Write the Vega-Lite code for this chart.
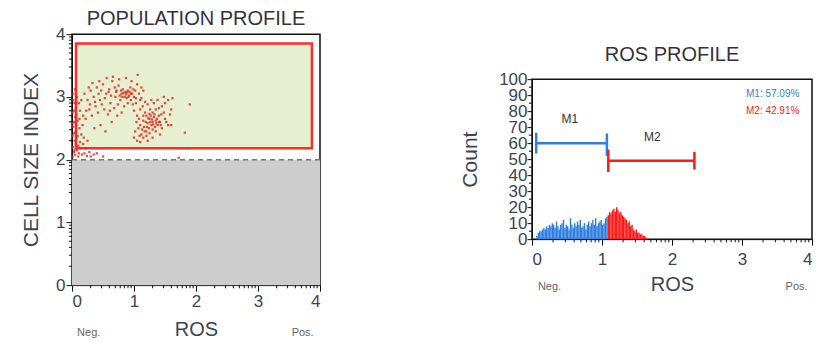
{
  "$schema": "https://vega.github.io/schema/vega-lite/v6.json",
  "background": "white",
  "padding": {"left": 19, "top": 8, "right": 0, "bottom": 0},
  "spacing": 136,
  "center": true,
  "config": {
    "font": "Liberation Sans",
    "view": {"stroke": "#111", "strokeWidth": 1.5},
    "title": {"fontSize": 20, "fontWeight": "normal", "color": "#333340"},
    "axis": {"domainColor": "#111", "tickColor": "#111", "labelColor": "#3d4456", "titleColor": "#3d4456", "labelFont": "Liberation Sans", "titleFont": "Liberation Sans", "titleFontWeight": "normal", "grid": false}
  },
  "datasets": {
    "minor4": [
      {"v":0.301},{"v":0.477},{"v":0.602},{"v":0.699},{"v":0.778},{"v":0.845},{"v":0.903},{"v":0.954},
      {"v":1.301},{"v":1.477},{"v":1.602},{"v":1.699},{"v":1.778},{"v":1.845},{"v":1.903},{"v":1.954},
      {"v":2.301},{"v":2.477},{"v":2.602},{"v":2.699},{"v":2.778},{"v":2.845},{"v":2.903},{"v":2.954},
      {"v":3.301},{"v":3.477},{"v":3.602},{"v":3.699},{"v":3.778},{"v":3.845},{"v":3.903},{"v":3.954}
    ],
    "minor100": [
      {"v":5},{"v":15},{"v":25},{"v":35},{"v":45},{"v":55},{"v":65},{"v":75},{"v":85},{"v":95}
    ],
    "cells": [
      {"x":0.01,"y":2.05},{"x":0.03,"y":2.12},{"x":0.02,"y":2.2},{"x":0.05,"y":2.08},{"x":0.04,"y":2.3},{"x":0.01,"y":2.38},{"x":0.06,"y":2.45},{"x":0.02,"y":2.52},{"x":0.08,"y":2.15},{"x":0.03,"y":2.6},
      {"x":0.05,"y":2.68},{"x":0.01,"y":2.75},{"x":0.07,"y":2.35},{"x":0.1,"y":2.22},{"x":0.04,"y":2.9},{"x":0.02,"y":3.05},{"x":0.06,"y":2.82},{"x":0.12,"y":2.5},{"x":0.09,"y":2.62},{"x":0.11,"y":2.1},
      {"x":0.13,"y":2.28},{"x":0.03,"y":2.42},{"x":0.07,"y":2.72},{"x":0.15,"y":2.4},{"x":0.02,"y":2.95},{"x":0.08,"y":3.0},{"x":0.05,"y":3.12},{"x":0.14,"y":2.18},{"x":0.06,"y":2.25},{"x":0.1,"y":2.05},
      {"x":0.16,"y":2.08},{"x":0.2,"y":2.1},{"x":0.24,"y":2.06},{"x":0.28,"y":2.12},{"x":0.18,"y":2.25},{"x":0.22,"y":2.18},{"x":0.3,"y":2.05},{"x":0.35,"y":2.08},{"x":0.4,"y":2.1},{"x":0.12,"y":2.65},
      {"x":0.17,"y":2.55},{"x":0.04,"y":2.15},{"x":0.09,"y":2.38},{"x":0.13,"y":2.78},{"x":0.19,"y":2.35},{"x":0.25,"y":2.3},{"x":0.01,"y":2.58},{"x":0.07,"y":2.55},{"x":0.03,"y":2.78},{"x":0.11,"y":2.9},
      {"x":0.3,"y":3.1},{"x":0.35,"y":3.0},{"x":0.4,"y":3.15},{"x":0.45,"y":2.95},{"x":0.5,"y":3.2},{"x":0.55,"y":3.05},{"x":0.6,"y":3.12},{"x":0.62,"y":2.9},{"x":0.65,"y":3.25},{"x":0.7,"y":3.0},
      {"x":0.72,"y":3.1},{"x":0.75,"y":3.18},{"x":0.78,"y":2.95},{"x":0.8,"y":3.05},{"x":0.82,"y":3.12},{"x":0.85,"y":3.0},{"x":0.86,"y":3.08},{"x":0.88,"y":2.98},{"x":0.9,"y":3.1},{"x":0.92,"y":3.02},
      {"x":0.94,"y":3.15},{"x":0.95,"y":2.95},{"x":0.97,"y":3.05},{"x":1.0,"y":3.0},{"x":1.02,"y":3.1},{"x":1.05,"y":3.2},{"x":1.08,"y":3.05},{"x":1.1,"y":2.95},{"x":0.25,"y":2.95},{"x":0.28,"y":2.8},
      {"x":0.32,"y":2.7},{"x":0.38,"y":2.85},{"x":0.42,"y":2.75},{"x":0.48,"y":2.88},{"x":0.52,"y":2.8},{"x":0.58,"y":2.72},{"x":0.68,"y":2.82},{"x":0.74,"y":2.88},{"x":0.84,"y":2.85},{"x":0.9,"y":2.9},
      {"x":0.98,"y":2.88},{"x":0.2,"y":3.05},{"x":0.22,"y":2.65},{"x":0.27,"y":3.15},{"x":0.33,"y":3.22},{"x":0.44,"y":3.25},{"x":0.56,"y":3.3},{"x":0.66,"y":3.32},{"x":0.76,"y":3.28},{"x":0.87,"y":3.3},
      {"x":0.96,"y":3.25},{"x":1.06,"y":3.35},{"x":1.12,"y":3.15},{"x":1.15,"y":3.1},{"x":0.81,"y":3.0},{"x":0.83,"y":3.06},{"x":0.87,"y":3.04},{"x":0.89,"y":3.07},{"x":0.91,"y":3.0},{"x":0.93,"y":3.08},
      {"x":0.79,"y":3.1},{"x":0.77,"y":3.02},{"x":0.71,"y":3.08},{"x":0.69,"y":3.15},{"x":0.63,"y":3.02},{"x":0.59,"y":3.08},{"x":0.53,"y":2.98},{"x":0.47,"y":3.1},{"x":0.43,"y":3.05},{"x":0.37,"y":2.92},
      {"x":0.29,"y":2.88},{"x":0.23,"y":2.78},{"x":0.18,"y":2.7},{"x":0.15,"y":2.95},{"x":0.61,"y":2.78},{"x":0.73,"y":2.7},{"x":0.64,"y":2.6},{"x":0.46,"y":2.55},{"x":0.36,"y":2.5},{"x":0.54,"y":2.45},
      {"x":0.8,"y":2.75},{"x":0.99,"y":3.12},{"x":1.03,"y":2.98},{"x":0.95,"y":3.05},
      {"x":1.2,"y":2.7},{"x":1.25,"y":2.65},{"x":1.3,"y":2.6},{"x":1.28,"y":2.55},{"x":1.32,"y":2.68},{"x":1.35,"y":2.62},{"x":1.22,"y":2.58},{"x":1.18,"y":2.75},{"x":1.15,"y":2.62},{"x":1.38,"y":2.55},
      {"x":1.4,"y":2.7},{"x":1.42,"y":2.6},{"x":1.3,"y":2.75},{"x":1.26,"y":2.8},{"x":1.24,"y":2.5},{"x":1.2,"y":2.45},{"x":1.16,"y":2.52},{"x":1.12,"y":2.4},{"x":1.1,"y":2.55},{"x":1.08,"y":2.65},
      {"x":1.05,"y":2.7},{"x":1.02,"y":2.45},{"x":1.0,"y":2.35},{"x":1.05,"y":2.3},{"x":1.1,"y":2.28},{"x":1.15,"y":2.35},{"x":1.2,"y":2.38},{"x":1.25,"y":2.42},{"x":1.3,"y":2.48},{"x":1.35,"y":2.45},
      {"x":1.45,"y":2.5},{"x":1.5,"y":2.65},{"x":1.48,"y":2.75},{"x":1.45,"y":2.85},{"x":1.5,"y":2.9},{"x":1.55,"y":2.95},{"x":1.6,"y":2.8},{"x":1.52,"y":2.6},{"x":1.58,"y":2.72},{"x":1.38,"y":2.95},
      {"x":1.32,"y":2.9},{"x":1.28,"y":2.95},{"x":1.22,"y":2.88},{"x":1.18,"y":2.92},{"x":1.14,"y":2.85},{"x":1.1,"y":2.8},{"x":1.35,"y":2.8},{"x":1.4,"y":2.82},{"x":1.44,"y":2.72},{"x":1.27,"y":2.7},
      {"x":1.33,"y":2.72},{"x":1.29,"y":2.64},{"x":1.23,"y":2.66},{"x":1.36,"y":2.58},{"x":1.19,"y":2.6},{"x":1.31,"y":2.56},{"x":1.26,"y":2.6},{"x":1.34,"y":2.52},{"x":1.21,"y":2.52},{"x":1.17,"y":2.45},
      {"x":1.13,"y":2.48},{"x":1.07,"y":2.5},{"x":1.09,"y":2.38},{"x":1.04,"y":2.6},{"x":1.15,"y":2.7},{"x":1.4,"y":2.6},{"x":1.43,"y":2.55},{"x":1.37,"y":2.65},{"x":1.25,"y":2.73},{"x":1.12,"y":2.98},
      {"x":1.0,"y":2.78},{"x":1.03,"y":2.9},{"x":1.48,"y":3.0},{"x":1.62,"y":2.98},{"x":1.55,"y":2.55},{"x":1.42,"y":2.4},{"x":1.6,"y":2.55},{"x":1.22,"y":2.3},{"x":1.3,"y":2.35},
      {"x":1.9,"y":2.88},{"x":1.82,"y":2.43},{"x":1.72,"y":2.03},{"x":0.5,"y":2.05}
    ],
    "hist": [
      {"x":0.06,"x2":0.08,"n":2,"g":"M1"},{"x":0.08,"x2":0.10,"n":4,"g":"M1"},{"x":0.10,"x2":0.12,"n":5,"g":"M1"},{"x":0.12,"x2":0.14,"n":5,"g":"M1"},{"x":0.14,"x2":0.16,"n":6,"g":"M1"},
      {"x":0.16,"x2":0.18,"n":7,"g":"M1"},{"x":0.18,"x2":0.20,"n":6,"g":"M1"},{"x":0.20,"x2":0.22,"n":8,"g":"M1"},{"x":0.22,"x2":0.24,"n":7,"g":"M1"},{"x":0.24,"x2":0.26,"n":9,"g":"M1"},
      {"x":0.26,"x2":0.28,"n":8,"g":"M1"},{"x":0.28,"x2":0.30,"n":10,"g":"M1"},{"x":0.30,"x2":0.32,"n":9,"g":"M1"},{"x":0.32,"x2":0.34,"n":7,"g":"M1"},{"x":0.34,"x2":0.36,"n":11,"g":"M1"},
      {"x":0.36,"x2":0.38,"n":8,"g":"M1"},{"x":0.38,"x2":0.40,"n":6,"g":"M1"},{"x":0.40,"x2":0.42,"n":9,"g":"M1"},{"x":0.42,"x2":0.44,"n":10,"g":"M1"},{"x":0.44,"x2":0.46,"n":12,"g":"M1"},
      {"x":0.46,"x2":0.48,"n":7,"g":"M1"},{"x":0.48,"x2":0.50,"n":9,"g":"M1"},{"x":0.50,"x2":0.52,"n":8,"g":"M1"},{"x":0.52,"x2":0.54,"n":6,"g":"M1"},{"x":0.54,"x2":0.56,"n":13,"g":"M1"},
      {"x":0.56,"x2":0.58,"n":9,"g":"M1"},{"x":0.58,"x2":0.60,"n":7,"g":"M1"},{"x":0.60,"x2":0.62,"n":10,"g":"M1"},{"x":0.62,"x2":0.64,"n":8,"g":"M1"},{"x":0.64,"x2":0.66,"n":11,"g":"M1"},
      {"x":0.66,"x2":0.68,"n":9,"g":"M1"},{"x":0.68,"x2":0.70,"n":12,"g":"M1"},{"x":0.70,"x2":0.72,"n":7,"g":"M1"},{"x":0.72,"x2":0.74,"n":8,"g":"M1"},{"x":0.74,"x2":0.76,"n":10,"g":"M1"},
      {"x":0.76,"x2":0.78,"n":6,"g":"M1"},{"x":0.78,"x2":0.80,"n":9,"g":"M1"},{"x":0.80,"x2":0.82,"n":11,"g":"M1"},{"x":0.82,"x2":0.84,"n":8,"g":"M1"},{"x":0.84,"x2":0.86,"n":10,"g":"M1"},
      {"x":0.86,"x2":0.88,"n":12,"g":"M1"},{"x":0.88,"x2":0.90,"n":9,"g":"M1"},{"x":0.90,"x2":0.92,"n":13,"g":"M1"},{"x":0.92,"x2":0.94,"n":8,"g":"M1"},{"x":0.94,"x2":0.96,"n":10,"g":"M1"},
      {"x":0.96,"x2":0.98,"n":11,"g":"M1"},{"x":0.98,"x2":1.00,"n":12,"g":"M1"},{"x":1.00,"x2":1.02,"n":9,"g":"M1"},{"x":1.02,"x2":1.04,"n":10,"g":"M1"},{"x":1.04,"x2":1.06,"n":13,"g":"M1"},
      {"x":1.06,"x2":1.08,"n":14,"g":"M1"},
      {"x":1.08,"x2":1.10,"n":15,"g":"M2"},{"x":1.10,"x2":1.12,"n":17,"g":"M2"},{"x":1.12,"x2":1.14,"n":16,"g":"M2"},{"x":1.14,"x2":1.16,"n":18,"g":"M2"},{"x":1.16,"x2":1.18,"n":19,"g":"M2"},
      {"x":1.18,"x2":1.20,"n":17,"g":"M2"},{"x":1.20,"x2":1.22,"n":20,"g":"M2"},{"x":1.22,"x2":1.24,"n":18,"g":"M2"},{"x":1.24,"x2":1.26,"n":16,"g":"M2"},{"x":1.26,"x2":1.28,"n":17,"g":"M2"},
      {"x":1.28,"x2":1.30,"n":15,"g":"M2"},{"x":1.30,"x2":1.32,"n":14,"g":"M2"},{"x":1.32,"x2":1.34,"n":13,"g":"M2"},{"x":1.34,"x2":1.36,"n":12,"g":"M2"},{"x":1.36,"x2":1.38,"n":10,"g":"M2"},
      {"x":1.38,"x2":1.40,"n":11,"g":"M2"},{"x":1.40,"x2":1.42,"n":8,"g":"M2"},{"x":1.42,"x2":1.44,"n":9,"g":"M2"},{"x":1.44,"x2":1.46,"n":6,"g":"M2"},{"x":1.46,"x2":1.48,"n":5,"g":"M2"},
      {"x":1.48,"x2":1.50,"n":6,"g":"M2"},{"x":1.50,"x2":1.52,"n":4,"g":"M2"},{"x":1.52,"x2":1.54,"n":4,"g":"M2"},{"x":1.54,"x2":1.56,"n":3,"g":"M2"},{"x":1.56,"x2":1.58,"n":3,"g":"M2"},
      {"x":1.58,"x2":1.60,"n":2,"g":"M2"},{"x":1.60,"x2":1.62,"n":2,"g":"M2"},{"x":1.62,"x2":1.64,"n":1,"g":"M2"}
    ]
  },
  "hconcat": [
    {
      "width": 248,
      "height": 251,
      "title": {"text": "POPULATION PROFILE", "offset": -4},
      "resolve": {"axis": {"x": "independent", "y": "independent"}},
      "layer": [
        {
          "data": {"values": [{"x": 0, "x2": 4, "y": 0, "y2": 2}]},
          "mark": {"type": "rect", "color": "#cdcdcd"},
          "encoding": {
            "x": {"field": "x", "type": "quantitative", "scale": {"domain": [0, 4], "nice": false},
              "axis": {"orient": "bottom", "values": [0, 1, 2, 3, 4], "format": "d", "labelOverlap": false,
                "title": "ROS", "labelFontSize": 17, "titleFontSize": 20, "tickSize": 6, "labelPadding": 2, "titlePadding": 10}},
            "x2": {"field": "x2"},
            "y": {"field": "y", "type": "quantitative", "scale": {"domain": [0, 4], "nice": false},
              "axis": {"orient": "left", "values": [0, 1, 2, 3, 4], "format": "d", "labelOverlap": false,
                "title": "CELL SIZE INDEX", "labelFontSize": 17, "titleFontSize": 21, "tickSize": 6, "labelPadding": 1, "titlePadding": 14}},
            "y2": {"field": "y2"}
          }
        },
        {
          "data": {"values": [{"x": 0.065, "x2": 3.87, "y": 2.18, "y2": 3.85}]},
          "mark": {"type": "rect", "fill": "#e6efcf", "stroke": "#ff2a2a", "strokeWidth": 2.5},
          "encoding": {
            "x": {"field": "x", "type": "quantitative", "axis": null},
            "x2": {"field": "x2"},
            "y": {"field": "y", "type": "quantitative", "axis": null},
            "y2": {"field": "y2"}
          }
        },
        {
          "data": {"values": [{"y": 2}]},
          "mark": {"type": "rule", "color": "#777", "strokeDash": [5, 4], "strokeWidth": 1.5},
          "encoding": {
            "y": {"field": "y", "type": "quantitative", "axis": null}
          }
        },
        {
          "data": {"name": "cells"},
          "mark": {"type": "square", "size": 5, "color": "#e8281c", "opacity": 0.85},
          "encoding": {
            "x": {"field": "x", "type": "quantitative", "axis": null},
            "y": {"field": "y", "type": "quantitative", "axis": null}
          }
        },
        {
          "data": {"name": "minor4"},
          "mark": {"type": "rule", "color": "#111", "strokeWidth": 1},
          "encoding": {
            "y": {"field": "v", "type": "quantitative", "axis": null},
            "x": {"datum": 0, "axis": null},
            "x2": {"datum": -0.05}
          }
        },
        {
          "data": {"name": "minor4"},
          "mark": {"type": "rule", "color": "#111", "strokeWidth": 1},
          "encoding": {
            "x": {"field": "v", "type": "quantitative", "axis": null},
            "y": {"datum": 0, "axis": null},
            "y2": {"datum": -0.05}
          }
        },
        {
          "data": {"values": [{"x": 0.27, "y": -0.76, "t": "Neg."}, {"x": 3.72, "y": -0.76, "t": "Pos."}]},
          "mark": {"type": "text", "fontSize": 11, "color": "#666"},
          "encoding": {
            "x": {"field": "x", "type": "quantitative", "axis": null},
            "y": {"field": "y", "type": "quantitative", "axis": null},
            "text": {"field": "t"}
          }
        }
      ]
    },
    {
      "width": 280,
      "height": 160,
      "title": {"text": ["", "ROS PROFILE"], "lineHeight": 15, "offset": 5},
      "resolve": {"axis": {"x": "independent", "y": "independent"}},
      "layer": [
        {
          "data": {"name": "hist"},
          "mark": {"type": "rect", "strokeWidth": 0},
          "encoding": {
            "x": {"field": "x", "type": "quantitative", "scale": {"domain": [0, 4], "nice": false},
              "axis": {"orient": "bottom", "values": [0, 1, 2, 3, 4], "format": "d", "labelOverlap": false,
                "title": "ROS", "labelFontSize": 17, "titleFontSize": 20, "tickSize": 6, "labelPadding": 6, "titlePadding": 7}},
            "x2": {"field": "x2"},
            "y": {"field": "n", "type": "quantitative", "scale": {"domain": [0, 100], "nice": false},
              "axis": {"orient": "left", "values": [0,10,20,30,40,50,60,70,80,90,100], "format": "d", "labelOverlap": false,
                "title": "Count", "labelFontSize": 17, "titleFontSize": 21, "tickSize": 5, "labelPadding": 0, "titlePadding": 18}},
            "y2": {"datum": 0},
            "color": {"field": "g", "type": "nominal", "scale": {"domain": ["M1", "M2"], "range": ["#2f7fe0", "#ff1a1a"]}, "legend": null}
          }
        },
        {
          "data": {"name": "minor4"},
          "mark": {"type": "rule", "color": "#111", "strokeWidth": 1},
          "encoding": {
            "x": {"field": "v", "type": "quantitative", "axis": null},
            "y": {"datum": 0, "axis": null},
            "y2": {"datum": -2}
          }
        },
        {
          "data": {"name": "minor100"},
          "mark": {"type": "rule", "color": "#111", "strokeWidth": 1},
          "encoding": {
            "y": {"field": "v", "type": "quantitative", "axis": null},
            "x": {"datum": 0, "axis": null},
            "x2": {"datum": -0.045}
          }
        },
        {
          "data": {"values": [{"x": 0.06, "x2": 1.07, "y": 60, "g": "M1"}, {"x": 1.08, "x2": 2.32, "y": 49, "g": "M2"}]},
          "mark": {"type": "rule", "strokeWidth": 2.5},
          "encoding": {
            "x": {"field": "x", "type": "quantitative", "axis": null},
            "x2": {"field": "x2"},
            "y": {"field": "y", "type": "quantitative", "axis": null},
            "color": {"field": "g", "type": "nominal", "legend": null}
          }
        },
        {
          "data": {"values": [{"x": 0.06, "y": 53.5, "y2": 66.5, "g": "M1"}, {"x": 1.07, "y": 52, "y2": 66, "g": "M1"}, {"x": 1.09, "y": 42, "y2": 56, "g": "M2"}, {"x": 2.32, "y": 43.5, "y2": 54.5, "g": "M2"}]},
          "mark": {"type": "rule", "strokeWidth": 2.5},
          "encoding": {
            "x": {"field": "x", "type": "quantitative", "axis": null},
            "y": {"field": "y", "type": "quantitative", "axis": null},
            "y2": {"field": "y2"},
            "color": {"field": "g", "type": "nominal", "legend": null}
          }
        },
        {
          "data": {"values": [{"x": 0.54, "y": 75, "t": "M1"}, {"x": 1.72, "y": 64, "t": "M2"}]},
          "mark": {"type": "text", "fontSize": 12, "color": "#333"},
          "encoding": {
            "x": {"field": "x", "type": "quantitative", "axis": null},
            "y": {"field": "y", "type": "quantitative", "axis": null},
            "text": {"field": "t"}
          }
        },
        {
          "data": {"values": [{"x": 3.82, "y": 91, "t": "M1: 57.09%", "g": "M1"}, {"x": 3.82, "y": 80, "t": "M2: 42.91%", "g": "M2"}]},
          "mark": {"type": "text", "fontSize": 10, "align": "right", "letterSpacing": -0.4},
          "encoding": {
            "x": {"field": "x", "type": "quantitative", "axis": null},
            "y": {"field": "y", "type": "quantitative", "axis": null},
            "text": {"field": "t"},
            "color": {"field": "g", "type": "nominal", "legend": null}
          }
        },
        {
          "data": {"values": [{"x": 0.25, "y": -30, "t": "Neg."}, {"x": 3.78, "y": -30, "t": "Pos."}]},
          "mark": {"type": "text", "fontSize": 11, "color": "#666"},
          "encoding": {
            "x": {"field": "x", "type": "quantitative", "axis": null},
            "y": {"field": "y", "type": "quantitative", "axis": null},
            "text": {"field": "t"}
          }
        }
      ]
    }
  ]
}
